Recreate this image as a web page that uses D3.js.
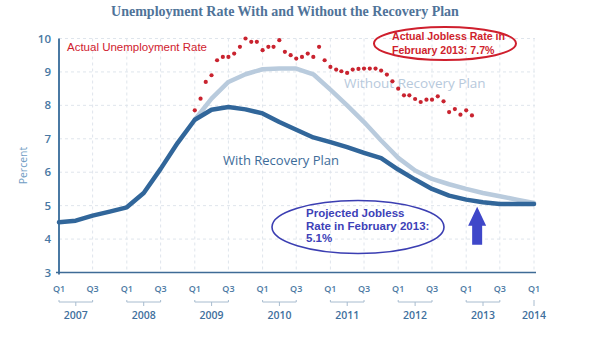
<!DOCTYPE html>
<html>
<head>
<meta charset="utf-8">
<script src="https://cdn.jsdelivr.net/npm/d3@7"></script>
<style>
  body { margin: 0; background: #fff; }
  svg { display: block; }
  .sans { font-family: "Open Sans", "Liberation Sans", sans-serif; }
  .arial { font-family: "Liberation Sans", Arial, sans-serif; }
</style>
</head>
<body>
<svg id="chart" width="600" height="346"></svg>
<script>
// quarterly projections, Q1 2007 .. Q1 2014
const withPlan = [4.5, 4.55, 4.7, 4.82, 4.95, 5.38, 6.1, 6.88,
  7.57, 7.87, 7.95, 7.88, 7.76, 7.5, 7.27, 7.04,
  6.9, 6.75, 6.58, 6.42, 6.08, 5.78, 5.5, 5.3,
  5.18, 5.1, 5.05, 5.05, 5.05];
// projection without the plan branches off at Q1 2009
const withoutPlan = [7.57, 8.2, 8.7, 8.93, 9.08, 9.1, 9.1, 8.93,
  8.47, 8.0, 7.5, 6.95, 6.43, 6.05, 5.8, 5.64,
  5.5, 5.38, 5.28, 5.18, 5.08];
// monthly actual rate, Jan 2009 .. Feb 2013
const actualRate = [
  7.85, 8.2, 8.7, 8.9, 9.35, 9.45, 9.45, 9.55, 9.75, 10.0, 9.9, 9.9,
  9.65, 9.75, 9.75, 9.95, 9.6, 9.5, 9.4, 9.45, 9.55, 9.45, 9.75, 9.35,
  9.15, 9.07, 9.02, 8.97, 9.07, 9.09, 9.1, 9.1, 9.1, 9.04, 8.92, 8.72,
  8.5, 8.3, 8.3, 8.19, 8.1, 8.17, 8.17, 8.27, 8.12, 7.8, 7.89, 7.72,
  7.85, 7.7];
const yTicks = [3, 4, 5, 6, 7, 8, 9, 10];
const years = [2007, 2008, 2009, 2010, 2011, 2012, 2013, 2014];
const quarterNames = ["Q1", "Q3"];

const qDate = (startYear, i) => new Date(startYear + Math.floor(i / 4), (i % 4) * 3, 1);
const mDate = (startYear, i) => new Date(startYear + Math.floor(i / 12), i % 12, 1);

const svg = d3.select("#chart");
const x = d3.scaleTime().domain([new Date(2007, 0, 1), new Date(2014, 0, 1)]).range([59, 534]);
const y = d3.scaleLinear().domain([3, 10]).range([272.5, 38.5]);

// title
svg.append("text")
  .attr("x", 285).attr("y", 16)
  .attr("text-anchor", "middle")
  .style("font-family", "'Liberation Serif', 'DejaVu Serif', serif")
  .style("font-weight", "bold")
  .style("font-size", "14px")
  .attr("fill", "#4f7399")
  .text("Unemployment Rate With and Without the Recovery Plan");

// dashed grid
const halfYears = d3.range(1, 15).map(i => new Date(2007 + Math.floor(i / 2), (i % 2) * 6, 1));
svg.append("g").selectAll("line.vg")
  .data(halfYears).enter().append("line")
  .attr("x1", d => x(d)).attr("x2", d => x(d))
  .attr("y1", y(10)).attr("y2", y(3))
  .attr("stroke", "#dfe5ec").attr("stroke-width", 1)
  .attr("stroke-dasharray", "3,3");
svg.append("g").selectAll("line.hg")
  .data(yTicks.slice(1)).enter().append("line")
  .attr("x1", x.range()[0]).attr("x2", x.range()[1] + 1)
  .attr("y1", d => y(d)).attr("y2", d => y(d))
  .attr("stroke", "#dfe5ec").attr("stroke-width", 1)
  .attr("stroke-dasharray", "3,3");

// axes
svg.append("line")
  .attr("x1", x.range()[0]).attr("x2", x.range()[0])
  .attr("y1", y(10)).attr("y2", y(3) + 2)
  .attr("stroke", "#4a79a3").attr("stroke-width", 2);
svg.append("line")
  .attr("x1", x.range()[0] - 3).attr("x2", x.range()[1] + 2)
  .attr("y1", y(3)).attr("y2", y(3))
  .attr("stroke", "#3e6b96").attr("stroke-width", 1.6);

svg.append("g").selectAll("text")
  .data(yTicks).enter().append("text")
  .attr("class", "sans")
  .attr("x", 51).attr("y", d => y(d) + 4)
  .attr("text-anchor", "end")
  .style("font-size", "11.5px").style("font-weight", "600")
  .attr("fill", "#4878a3")
  .text(d => d);

svg.append("text")
  .attr("class", "sans")
  .attr("transform", `translate(27,${y(6.2)}) rotate(-90)`)
  .attr("text-anchor", "middle")
  .style("font-size", "10.5px")
  .attr("fill", "#6f9cc4")
  .text("Percent");

// quarter labels and year brackets
const xAxis = svg.append("g");
years.forEach(yr => {
  const q1 = x(new Date(yr, 0, 1));
  const last = yr === 2014;
  const q3 = last ? q1 : x(new Date(yr, 6, 1));
  const mid = (q1 + q3) / 2;
  (last ? quarterNames.slice(0, 1) : quarterNames).forEach((q, i) => {
    xAxis.append("text")
      .attr("class", "sans")
      .attr("x", i ? q3 : q1).attr("y", 292)
      .attr("text-anchor", "middle")
      .style("font-size", "9px").style("font-weight", "600")
      .attr("fill", "#4b79a3")
      .text(q);
  });
  if (!last) {
    xAxis.append("path")
      .attr("d", `M${q1},300 V302 H${q3} V300 M${mid},302 V306`)
      .attr("fill", "none").attr("stroke", "#a8bccf").attr("stroke-width", 1);
  } else {
    xAxis.append("path")
      .attr("d", `M${mid},300 V306`)
      .attr("fill", "none").attr("stroke", "#a8bccf").attr("stroke-width", 1);
  }
  xAxis.append("text")
    .attr("class", "sans")
    .attr("x", mid).attr("y", 319)
    .attr("text-anchor", "middle")
    .style("font-size", "10.5px").style("font-weight", "600")
    .attr("fill", "#3f6f9d")
    .text(yr);
});

// projection lines
const line = d3.line().x(d => x(d.date)).y(d => y(d.value));
const withoutData = withoutPlan.map((v, i) => ({ date: qDate(2009, i), value: v }));
const withData = withPlan.map((v, i) => ({ date: qDate(2007, i), value: v }));

svg.append("path").datum(withoutData)
  .attr("d", line)
  .attr("fill", "none").attr("stroke", "#b9cbdd").attr("stroke-width", 4.5)
  .attr("stroke-linejoin", "round").attr("stroke-linecap", "round");
svg.append("path").datum(withData)
  .attr("d", line)
  .attr("fill", "none").attr("stroke", "#31669a").attr("stroke-width", 4.5)
  .attr("stroke-linejoin", "round").attr("stroke-linecap", "round");

svg.append("text")
  .attr("class", "sans")
  .attr("x", 344).attr("y", 88)
  .style("font-size", "13.5px")
  .attr("fill", "#b7c9dc")
  .text("Without Recovery Plan");
svg.append("text")
  .attr("class", "sans")
  .attr("x", 223).attr("y", 165)
  .style("font-size", "13px")
  .attr("fill", "#3d6c99")
  .text("With Recovery Plan");

// actual monthly rate
svg.append("g").selectAll("circle")
  .data(actualRate).enter().append("circle")
  .attr("cx", (d, i) => x(mDate(2009, i)))
  .attr("cy", d => y(d))
  .attr("r", 2.1)
  .attr("fill", "#c9232f");

svg.append("text")
  .attr("class", "arial")
  .attr("x", 67).attr("y", 51)
  .style("font-size", "11.5px")
  .attr("fill", "#d0212e")
  .text("Actual Unemployment Rate");

// callout: actual rate
const lastActual = actualRate[actualRate.length - 1];
svg.append("ellipse")
  .attr("cx", 445).attr("cy", 43.5).attr("rx", 71).attr("ry", 16.5)
  .attr("fill", "none").attr("stroke", "#cf1f2d").attr("stroke-width", 2);
svg.append("text")
  .attr("class", "arial")
  .style("font-size", "10.6px").style("font-weight", "bold")
  .attr("fill", "#cf1f2d")
  .selectAll("tspan")
  .data(["Actual Jobless Rate in", `February 2013: ${lastActual}%`]).enter().append("tspan")
  .attr("x", 392).attr("y", (d, i) => 40 + i * 13.5)
  .text(d => d);

// callout: projected rate
const projected = 5.1;
svg.append("ellipse")
  .attr("cx", 358).attr("cy", 227).attr("rx", 86).attr("ry", 26.5)
  .attr("fill", "none").attr("stroke", "#3b3eb2").attr("stroke-width", 1.6);
svg.append("text")
  .attr("class", "arial")
  .style("font-size", "11.5px").style("font-weight", "bold")
  .attr("fill", "#3d41b8")
  .selectAll("tspan")
  .data(["Projected Jobless", "Rate in February 2013:", `${projected}%`]).enter().append("tspan")
  .attr("x", 306).attr("y", (d, i) => 217 + i * 12.5)
  .text(d => d);

// arrow up to the projection
const ax = x(new Date(2013, 2, 1));
const tip = y(4.97);
svg.append("path")
  .attr("d", `M${ax},${tip} L${ax + 9},${tip + 19} L${ax + 5},${tip + 19} L${ax + 5},${tip + 38}
    L${ax - 5},${tip + 38} L${ax - 5},${tip + 19} L${ax - 9},${tip + 19} Z`)
  .attr("fill", "#3f47c9");
</script>
</body>
</html>
